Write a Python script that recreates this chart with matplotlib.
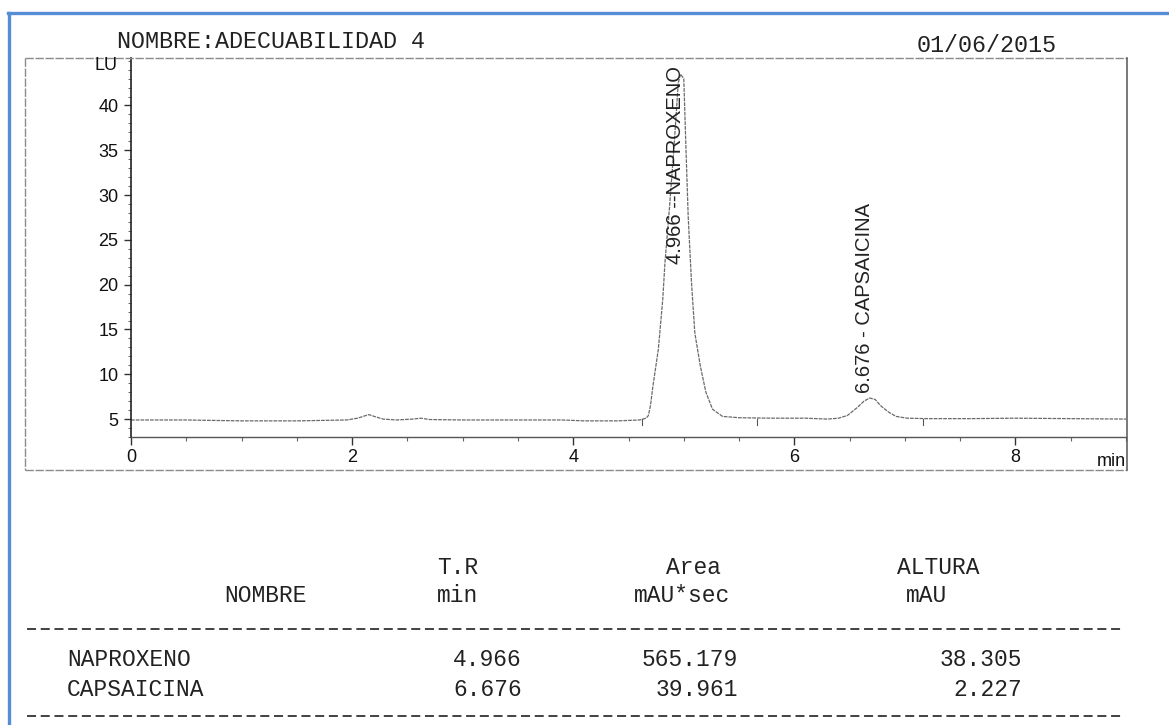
import matplotlib
matplotlib.use("Agg")
import matplotlib.pyplot as plt
from matplotlib.lines import Line2D
from matplotlib.ticker import MultipleLocator

# ---------------- data ----------------
title_text = "NOMBRE:ADECUABILIDAD 4"
date_text = "01/06/2015"

time_min = [0.00, 0.50, 1.00, 1.50, 1.95, 2.05, 2.10, 2.15, 2.20, 2.28, 2.40,
            2.55, 2.62, 2.70, 3.00, 3.50, 3.90, 4.10, 4.40, 4.60, 4.66, 4.68,
            4.70, 4.72, 4.77, 4.81, 4.83, 4.87, 4.91, 4.95, 4.97, 5.00, 5.02,
            5.04, 5.07, 5.10, 5.15, 5.20, 5.26, 5.35, 5.50, 5.80, 6.10, 6.30,
            6.40, 6.48, 6.57, 6.63, 6.68, 6.73, 6.78, 6.85, 6.92, 7.02, 7.20,
            7.60, 8.00, 8.50, 9.00]
signal_lu = [4.9, 4.9, 4.8, 4.8, 4.9, 5.1, 5.3, 5.5, 5.3, 5.0, 4.9,
             5.0, 5.1, 4.95, 4.9, 4.9, 4.9, 4.8, 4.8, 4.9, 5.1, 5.4,
             6.6, 8.6, 12.8, 18.4, 22.5, 28.5, 35.1, 42.5, 43.5, 43.0, 35.1,
             27.6, 20.2, 14.6, 10.9, 8.0, 6.1, 5.3, 5.15, 5.1, 5.1, 5.0,
             5.1, 5.4, 6.3, 7.0, 7.35, 7.2, 6.5, 5.8, 5.3, 5.1, 5.05,
             5.05, 5.1, 5.05, 5.0]

event_marks_min = [4.62, 5.66, 7.16]

peak_rt = [4.966, 6.676]
peak_labels = ["4.966 --NAPROXENO", "6.676 - CAPSAICINA"]
peak_label_base = [22.3, 7.9]

table_names = ["NAPROXENO", "CAPSAICINA"]
table_tr = ["4.966", "6.676"]
table_area = ["565.179", "39.961"]
table_height = ["38.305", "2.227"]
header_top = ["T.R", "Area", "ALTURA"]
header_bottom = ["NOMBRE", "min", "mAU*sec", "mAU"]

x_ticks = [0, 2, 4, 6, 8]
y_ticks = [5, 10, 15, 20, 25, 30, 35, 40]

# ---------------- layout helpers ----------------
W, H = 1169, 725
fig = plt.figure(figsize=(W / 100, H / 100), dpi=100)
fig.patch.set_facecolor("white")


def fx(x):
    return x / W


def fy(y):
    return 1 - y / H


SANS = ["Liberation Sans", "DejaVu Sans"]
MONO = ["Liberation Mono", "DejaVu Sans Mono"]

# blue page border (left and top)
fig.add_artist(Line2D([fx(8.5), fx(8.5)], [fy(13), fy(725)], color="#558ED5", lw=2.4))
fig.add_artist(Line2D([fx(7.5), fx(1169)], [fy(13), fy(13)], color="#558ED5", lw=2.4))

# grey scanned frame around the plot
frame_kw = dict(color="#8a8a8a", lw=1.0, dashes=(6, 1.2))
fig.add_artist(Line2D([fx(25), fx(1127)], [fy(58), fy(58)], **frame_kw))
fig.add_artist(Line2D([fx(25), fx(25)], [fy(58), fy(470)], **frame_kw))
fig.add_artist(Line2D([fx(25), fx(1127)], [fy(470), fy(470)], **frame_kw))
fig.add_artist(Line2D([fx(1127), fx(1127)], [fy(58), fy(470)], color="#555555", lw=1.1))

# header texts
fig.text(fx(117), fy(41), title_text, family=MONO, fontsize=16.8, color="#222222",
         ha="left", va="center")
fig.text(fx(1057), fy(45), date_text, family=MONO, fontsize=16.8, color="#222222",
         ha="right", va="center")

# ---------------- chromatogram axes ----------------
ax_left, ax_right, ax_top, ax_bottom = 131, 1126, 58, 437
ax = fig.add_axes([fx(ax_left), fy(ax_bottom), (ax_right - ax_left) / W,
                   (ax_bottom - ax_top) / H])
ax.set_facecolor("none")
ax.set_xlim(0, 9)
ax.set_ylim(3.0, 45.3)

ax.plot(time_min, signal_lu, color="#6a6a6a", lw=0.9, dashes=(3, 0.8))

for t in event_marks_min:
    ax.plot([t, t], [4.3, 5.0], color="#555555", lw=0.8)

for rt, lab, yb in zip(peak_rt, peak_labels, peak_label_base):
    ax.text(rt - 0.04, yb, lab, rotation=90, ha="center", va="bottom",
            family=SANS, fontsize=14.5, color="#222222")

for side in ("top", "right"):
    ax.spines[side].set_visible(False)
ax.spines["left"].set_color("#222222")
ax.spines["left"].set_linewidth(1.2)
ax.spines["bottom"].set_color("#555555")
ax.spines["bottom"].set_linewidth(1.0)

ax.set_xticks(x_ticks)
ax.set_xticklabels([str(v) for v in x_ticks])
ax.xaxis.set_minor_locator(MultipleLocator(0.5))
ax.set_yticks(y_ticks)
ax.set_yticklabels([str(v) for v in y_ticks])
ax.yaxis.set_minor_locator(MultipleLocator(1))

ax.tick_params(axis="x", which="major", direction="out", length=6, width=1,
               color="#333333", pad=3, labelsize=13, labelcolor="#111111")
ax.tick_params(axis="x", which="minor", direction="out", length=3, width=0.8,
               color="#666666")
ax.tick_params(axis="y", which="major", direction="out", length=5, width=1,
               color="#333333", pad=4, labelsize=13, labelcolor="#111111")
ax.tick_params(axis="y", which="minor", direction="out", length=2, width=0.7,
               color="#666666")
for lbl in ax.get_xticklabels() + ax.get_yticklabels():
    lbl.set_family(SANS)

fig.text(fx(106), fy(66), "LU", family=SANS, fontsize=13, color="#111111",
         ha="center", va="center")
fig.text(fx(1126), fy(461), "min", family=SANS, fontsize=13, color="#111111",
         ha="right", va="center")

# ---------------- results table ----------------
TFS = 16.5
tcol = "#222222"
for txt, xc in zip(header_top, [458, 693, 938]):
    fig.text(fx(xc), fy(567), txt, family=MONO, fontsize=TFS, color=tcol,
             ha="center", va="center")
for txt, xc in zip(header_bottom, [266, 458, 682, 927]):
    fig.text(fx(xc), fy(596), txt, family=MONO, fontsize=TFS, color=tcol,
             ha="center", va="center")

dash_kw = dict(color="#333333", lw=1.3, dashes=(5.0, 2.6))
fig.add_artist(Line2D([fx(27), fx(1122)], [fy(629), fy(629)], **dash_kw))
fig.add_artist(Line2D([fx(27), fx(1122)], [fy(716), fy(716)], **dash_kw))

for i, (nm, tr, ar, ht) in enumerate(zip(table_names, table_tr, table_area, table_height)):
    yy = 660 + i * 30
    fig.text(fx(67), fy(yy), nm, family=MONO, fontsize=TFS, color=tcol, ha="left", va="center")
    fig.text(fx(522), fy(yy), tr, family=MONO, fontsize=TFS, color=tcol, ha="right", va="center")
    fig.text(fx(738), fy(yy), ar, family=MONO, fontsize=TFS, color=tcol, ha="right", va="center")
    fig.text(fx(1022), fy(yy), ht, family=MONO, fontsize=TFS, color=tcol, ha="right", va="center")

fig.savefig("out.png", dpi=100, facecolor="white")
